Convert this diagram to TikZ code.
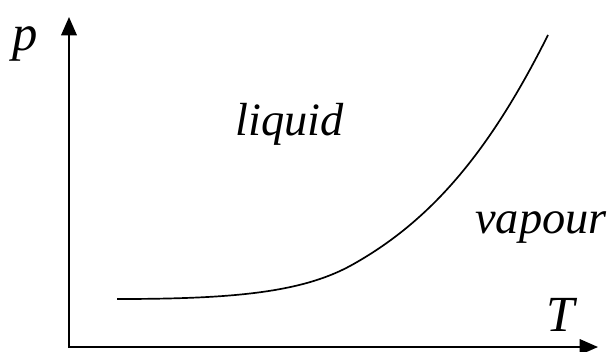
\documentclass[tikz,border=0pt]{standalone}
\usepackage{fontspec}
\setmainfont{Liberation Serif}[ItalicFont={Liberation Serif Italic}]
\usetikzlibrary{arrows.meta,calc}
\tikzstyle{axis}=[-{Triangle[length=13pt,width=11pt]}, line width=1.4pt]
\tikzstyle{phase}=[font=\fontsize{33}{40}\selectfont\itshape, inner sep=0pt]
\tikzstyle{axlabel}=[font=\fontsize{36}{42}\selectfont\itshape, inner sep=0pt]

\begin{document}
\begin{tikzpicture}[x=0.025cm, y=-0.025cm]
\useasboundingbox (0,0) rectangle (615,351);
{
\coordinate(O) at (69,347);
\coordinate(ytop) at (69,17);
\coordinate(xend) at (598,347);
\coordinate(c0) at (117,299);
\coordinate(c1) at (350,266);
\coordinate(c2) at (548,35);

\begin{scope}[phase]
    \node[anchor=base west](liquid) at (235,135) {liquid};
    \node[anchor=base west](vapour) at (475,233) {vapour};
\end{scope}
\begin{scope}[axlabel]
    \node[anchor=base west](p) at (12,50) {p};
    \node[anchor=base west](T) at (546,331) {T};
\end{scope}

\draw[axis] ($(O)+(0,1)$) -- (ytop);
\draw[axis] ($(O)+(-1,0)$) -- (xend);

% coexistence curve
\draw[line width=1.2pt] (c0) .. controls (230,299) and (300,293) .. (c1)
    .. controls (430,222) and (489,153) .. (c2);
}
\end{tikzpicture}
\end{document}
